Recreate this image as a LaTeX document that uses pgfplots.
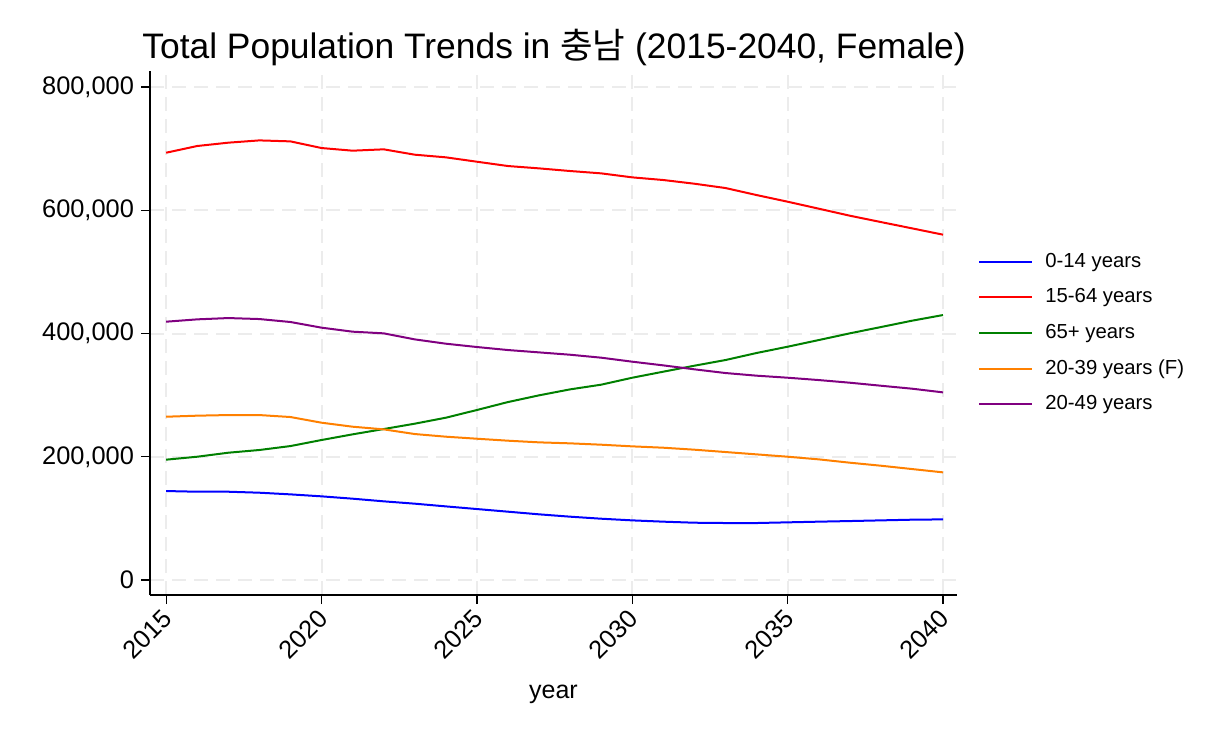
\documentclass[border=0pt]{standalone}
\usepackage{fontspec}
\setmainfont{Liberation Sans}
\newfontfamily\kr{Noto Sans CJK KR}
\usepackage{pgfplots}
\pgfplotsset{compat=1.18}
\definecolor{gridc}{RGB}{236,236,236}
\definecolor{cblue}{RGB}{0,0,255}
\definecolor{cred}{RGB}{255,0,0}
\definecolor{cgreen}{RGB}{0,128,0}
\definecolor{corange}{RGB}{255,128,0}
\definecolor{cpurple}{RGB}{128,0,128}
\begin{document}
\begin{tikzpicture}
\useasboundingbox (0,0) rectangle (612pt,367pt);
\begin{axis}[
  at={(75pt,69.5pt)}, anchor=south west,
  scale only axis, width=403.5pt, height=262pt,
  xmin=2014.48, xmax=2040.45, ymin=-24300, ymax=826000,
  axis x line*=bottom, axis y line*=left,
  axis line style={-, line width=0.6pt},
  tick align=outside, major tick length=4.5pt,
  tick style={black, line width=0.6pt},
  xtick={2015,2020,2025,2030,2035,2040},
  ytick={0,200000,400000,600000,800000},
  scaled y ticks=false,
  /pgf/number format/assume math mode=true,
  yticklabel style={/pgf/number format/.cd, fixed, 1000 sep={,}},
  xticklabel style={/pgf/number format/1000 sep={}, xshift=-2.5pt, yshift=1pt, rotate=45, anchor=north east, inner sep=2pt},
  ticklabel style={font=\fontsize{12.7}{14}\selectfont},
  grid=major,
  major grid style={gridc, line width=1pt, dash pattern=on 7pt off 4pt},
  title={Total Population Trends in {\kr 충남} (2015-2040, Female)},
  title style={at={(rel axis cs:0,1)}, anchor=base west, xshift=-4pt, yshift=0.5pt, inner sep=0pt, font=\fontsize{17.7}{20}\selectfont},
  xlabel={year},
  xlabel style={at={(rel axis cs:0.5,0)}, anchor=base, yshift=-51.5pt, inner sep=0pt, font=\fontsize{12.5}{14}\selectfont},
  legend style={draw=none, fill=none, at={(rel axis cs:1,0.5)}, anchor=west, xshift=10.5pt,
    inner sep=0pt, font=\fontsize{10.15}{12}\selectfont, column sep=6pt, row sep=8.3pt,
    nodes={inner sep=0pt, text height=7.5pt, text depth=2pt}},
  legend cell align=left,
  legend image code/.code={\draw[#1] (0pt,0pt) -- (26.5pt,0pt);},
  every axis plot/.append style={line width=1pt},
]
\addplot[cblue] coordinates {
(2015,144400) (2016,143300) (2017,143300) (2018,141700) (2019,139000) (2020,135800)
(2021,132000) (2022,127700) (2023,123900) (2024,119500) (2025,115200) (2026,110900)
(2027,106600) (2028,102800) (2029,99500) (2030,96800) (2031,94700) (2032,93000)
(2033,92500) (2034,92500) (2035,93600) (2036,94700) (2037,95700) (2038,96800)
(2039,97900) (2040,98400)};
\addlegendentry{0-14 years}
\addplot[cred] coordinates {
(2015,693400) (2016,704300) (2017,709700) (2018,713400) (2019,711800) (2020,701000)
(2021,696700) (2022,698900) (2023,690200) (2024,685900) (2025,678800) (2026,671800)
(2027,668000) (2028,663700) (2029,659900) (2030,653400) (2031,649100) (2032,643100)
(2033,636100) (2034,624700) (2035,613900) (2036,602600) (2037,591200) (2038,580900)
(2039,570700) (2040,560400)};
\addlegendentry{15-64 years}
\addplot[cgreen] coordinates {
(2015,195300) (2016,200100) (2017,206600) (2018,211000) (2019,217400) (2020,227200)
(2021,236400) (2022,245000) (2023,253700) (2024,263400) (2025,275900) (2026,288800)
(2027,299700) (2028,309400) (2029,317000) (2030,328300) (2031,338100) (2032,347800)
(2033,357000) (2034,368400) (2035,378600) (2036,389400) (2037,400300) (2038,410500)
(2039,420800) (2040,430000)};
\addlegendentry{65+ years}
\addplot[corange] coordinates {
(2015,265000) (2016,266700) (2017,267700) (2018,267700) (2019,264500) (2020,255300)
(2021,248800) (2022,244500) (2023,236900) (2024,232600) (2025,229300) (2026,226100)
(2027,223400) (2028,221800) (2029,219600) (2030,216900) (2031,214700) (2032,211500)
(2033,207700) (2034,203900) (2035,200100) (2036,195800) (2037,190400) (2038,185500)
(2039,180100) (2040,174700)};
\addlegendentry{20-39 years (F)}
\addplot[cpurple] coordinates {
(2015,419200) (2016,423000) (2017,425100) (2018,423500) (2019,418700) (2020,409500)
(2021,403000) (2022,400300) (2023,390500) (2024,383500) (2025,378100) (2026,373200)
(2027,369400) (2028,365600) (2029,360800) (2030,354300) (2031,348300) (2032,341900)
(2033,335900) (2034,331600) (2035,328300) (2036,324500) (2037,320200) (2038,315300)
(2039,310500) (2040,304500)};
\addlegendentry{20-49 years}
\end{axis}
\end{tikzpicture}
\end{document}
